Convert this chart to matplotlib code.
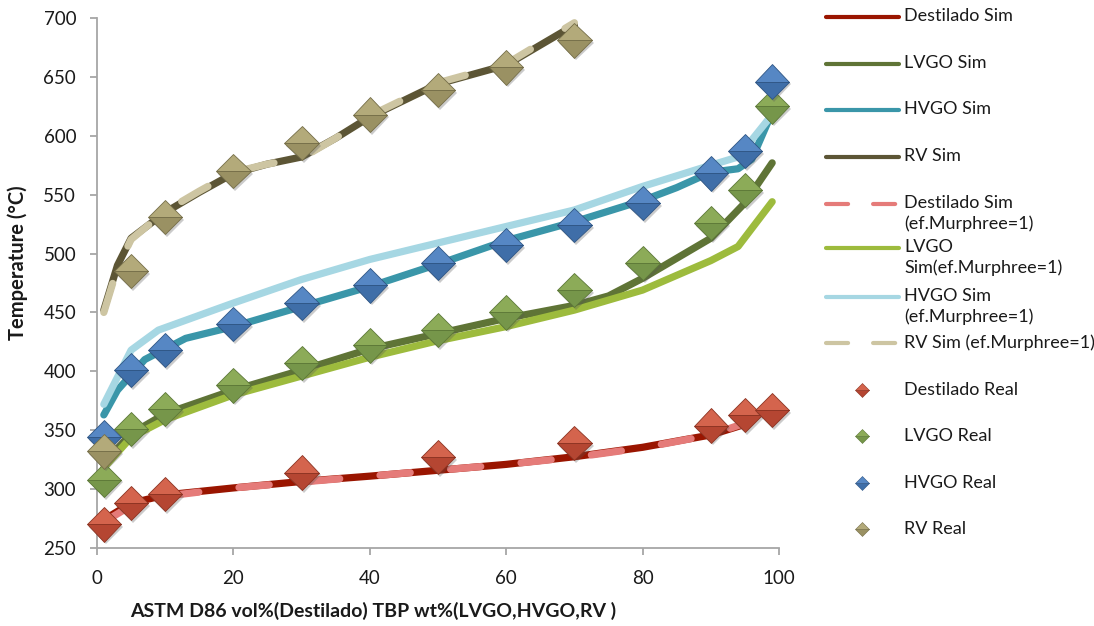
import matplotlib
matplotlib.use("Agg")
import matplotlib.pyplot as plt
import matplotlib.patheffects as pe
from matplotlib.lines import Line2D

plt.rcParams['font.family'] = ['Lato', 'DejaVu Sans']

# --- simulated curves ---
dest_sim_x = [1, 5, 10, 20, 30, 40, 50, 60, 70, 80, 90, 95, 99]
dest_sim_y = [274, 288, 295, 301, 306.5, 311, 316, 321, 327.5, 335.5, 346, 355, 374]
dest_mur_x = [1, 5, 10, 20, 30, 40, 50, 60, 70, 80, 90, 95, 99]
dest_mur_y = [272, 286, 294, 301, 306, 311, 316, 321, 327, 335, 346, 356, 370]

lvgo_sim_x = [1, 5, 10, 20, 30, 40, 50, 60, 70, 75, 80, 90, 95, 99]
lvgo_sim_y = [322, 347, 364, 384, 401, 419, 432, 445, 456, 464, 479, 513, 543, 577]
lvgo_mur_x = [1, 5, 10, 20, 30, 40, 50, 60, 70, 80, 90, 94, 99]
lvgo_mur_y = [318, 344, 359, 380, 396, 412, 426, 438, 452, 469, 494, 506, 544]

hvgo_sim_x = [1, 3, 7, 13, 20, 30, 40, 50, 60, 70, 80, 85, 90, 94, 96, 99]
hvgo_sim_y = [363, 384, 410, 428, 438, 455, 472, 491, 511, 527, 545, 556, 569, 572, 580, 620]
hvgo_mur_x = [1, 5, 9, 20, 30, 40, 50, 60, 70, 80, 90, 94, 99]
hvgo_mur_y = [372, 418, 435, 458, 478, 495, 509, 523, 537, 557, 575, 582, 618]

rv_sim_x = [1, 3, 5, 10, 15, 20, 25, 30, 35, 40, 50, 60, 70]
rv_sim_y = [452, 490, 513, 535, 552, 568, 576, 582, 598, 616, 644, 660, 694]
rv_mur_x = [1, 3, 5, 10, 15, 20, 25, 30, 35, 40, 50, 60, 70]
rv_mur_y = [450, 488, 512, 536, 553, 569, 576, 581, 598, 617, 645, 661, 696]

# --- measured data ---
dest_real_x = [1, 5, 10, 30, 50, 70, 90, 95, 99]
dest_real_y = [270, 288, 296, 314, 327, 339, 354, 363, 367]
lvgo_real_x = [1, 5, 10, 20, 30, 40, 50, 60, 70, 80, 90, 95, 99]
lvgo_real_y = [308, 351, 368, 388, 407, 422, 435, 450, 469, 492, 526, 554, 625]
hvgo_real_x = [1, 5, 10, 20, 30, 40, 50, 60, 70, 80, 90, 95, 99]
hvgo_real_y = [344, 401, 418, 440, 458, 473, 492, 507, 524, 543, 568, 587, 646]
rv_real_x = [1, 5, 10, 20, 30, 40, 50, 60, 70]
rv_real_y = [332, 485, 531, 570, 594, 618, 639, 658, 681]

sim_series = [
    ("Destilado Sim", dest_sim_x, dest_sim_y, "#9a1500", False),
    ("LVGO Sim", lvgo_sim_x, lvgo_sim_y, "#5f7436", False),
    ("HVGO Sim", hvgo_sim_x, hvgo_sim_y, "#3a96a9", False),
    ("RV Sim", rv_sim_x, rv_sim_y, "#5c5535", False),
    ("Destilado Sim\n(ef.Murphree=1)", dest_mur_x, dest_mur_y, "#e57b79", True),
    ("LVGO\nSim(ef.Murphree=1)", lvgo_mur_x, lvgo_mur_y, "#9dbb3d", False),
    ("HVGO Sim\n(ef.Murphree=1)", hvgo_mur_x, hvgo_mur_y, "#a6d7e3", False),
    ("RV Sim (ef.Murphree=1)", rv_mur_x, rv_mur_y, "#cdc5a2", True),
]
real_series = [
    ("Destilado Real", dest_real_x, dest_real_y, "#d4644d", "#b54632", "#8c3322"),
    ("LVGO Real", lvgo_real_x, lvgo_real_y, "#8cab58", "#76964a", "#5c7837"),
    ("HVGO Real", hvgo_real_x, hvgo_real_y, "#5687c4", "#3f6ea8", "#2f5685"),
    ("RV Real", rv_real_x, rv_real_y, "#b3aa7a", "#9a9163", "#756e48"),
]

fig = plt.figure(figsize=(10.94, 6.26), dpi=100)
W, H = 1094, 626
ax = fig.add_axes([97 / W, 1 - 548 / H, (779 - 97) / W, (548 - 18) / H])

LW = 5.2
for label, xs, ys, col, dashed in sim_series:
    ln, = ax.plot(xs, ys, color=col, lw=LW, solid_capstyle='round',
                  solid_joinstyle='round', dash_capstyle='round', zorder=2)
    if dashed:
        ln.set_dashes([4.2, 5.6])

shadow = [pe.SimplePatchShadow(offset=(1.5, -2), alpha=0.3, shadow_rgbFace='#555555'),
          pe.Normal()]
for label, xs, ys, top, bot, edge in real_series:
    ax.plot(xs, ys, linestyle='none', marker='D', markersize=17.5,
            markerfacecolor=top, markerfacecoloralt=bot, fillstyle='top',
            markeredgecolor=edge, markeredgewidth=0.6, zorder=3,
            path_effects=shadow, clip_on=False)

ax.set_xlim(0, 100)
ax.set_ylim(250, 700)
ax.set_xticks([0, 20, 40, 60, 80, 100])
ax.set_yticks(range(250, 701, 50))
for s in ['top', 'right']:
    ax.spines[s].set_visible(False)
for s in ['left', 'bottom']:
    ax.spines[s].set_color('#a6a6a6')
    ax.spines[s].set_linewidth(1.3)
ax.tick_params(axis='both', colors='#a6a6a6', length=5, width=1.3, direction='out',
               labelcolor='#1a1a1a', labelsize=13.5)
ax.tick_params(axis='y', pad=10)
ax.tick_params(axis='x', pad=11)

fig.text(18 / W, 1 - 263 / H, "Temperature (°C)", rotation=90, ha='center', va='center',
         fontsize=14.5, fontweight='bold', color='#1a1a1a')
fig.text(373 / W, 1 - 611 / H, "ASTM D86 vol%(Destilado) TBP wt%(LVGO,HVGO,RV )",
         ha='center', va='center', fontsize=14, fontweight='bold', color='#1a1a1a')

# --- legend drawn at the right, Excel style ---
leg_y = [17, 64, 110, 157, 204, 248, 297, 343, 390, 436, 483, 529]
x0, x1, xt = 826, 899, 904
for i, (label, xs, ys, col, dashed) in enumerate(sim_series):
    y = 1 - leg_y[i] / H
    ln = Line2D([x0 / W, x1 / W], [y, y], transform=fig.transFigure, color=col, lw=3,
                solid_capstyle='round', dash_capstyle='round')
    if dashed:
        ln.set_dashes([5.3, 6.0])
    fig.add_artist(ln)
    fig.text(xt / W, 1 - (leg_y[i] - 9) / H, label, ha='left', va='top', fontsize=13,
             color='#1a1a1a', linespacing=1.32)
for j, (label, xs, ys, top, bot, edge) in enumerate(real_series):
    y = 1 - leg_y[8 + j] / H
    fig.add_artist(Line2D([862 / W], [y], transform=fig.transFigure, marker='D',
                          markersize=7, markerfacecolor=top, markerfacecoloralt=bot,
                          fillstyle='top', markeredgecolor=edge, markeredgewidth=0.4,
                          linestyle='none'))
    fig.text(xt / W, y, label, ha='left', va='center', fontsize=13, color='#1a1a1a')

fig.savefig("out.png", dpi=100)
